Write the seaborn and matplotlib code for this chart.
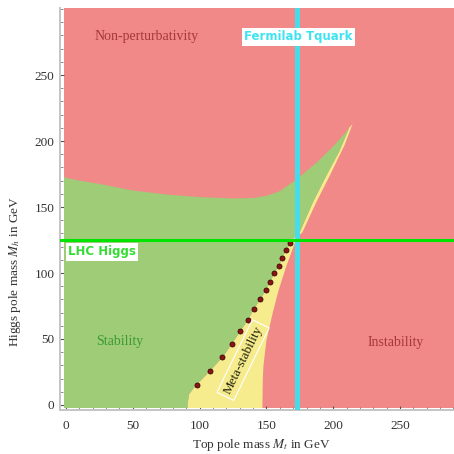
import matplotlib
matplotlib.use("Agg")
import matplotlib.pyplot as plt
import seaborn as sns
import pandas as pd

# grenser lest av bildet (GeV)
stab_top_x = [-1.5, 0, 10, 25, 50, 75, 100, 125, 140, 150, 160, 172, 188, 201, 208, 214.5]
stab_top_y = [173, 172, 170, 167.5, 162.5, 159.5, 157.5, 156.5, 156.8, 158.5, 162, 170.5, 184, 197, 205, 213]

stab_edge_x = [214.5, 212, 204.5, 195, 185, 175, 171, 168, 165, 162, 159.5, 156, 153, 149.5,
               145.5, 140.5, 136, 130.5, 124, 117, 108, 98, 95, 92, 91, 91]
stab_edge_y = [213, 210, 192, 174, 154, 131, 127, 122.5, 117.5, 112, 105.5, 100, 93.5, 87,
               80, 72.5, 64, 56, 46, 36, 26, 15.5, 12, 8, 0, -2.3]

meta_edge_x = [147, 147, 147.3, 147.8, 150, 155, 159, 164.5, 169.5, 173, 177, 187.5, 197.5, 208.5, 214.5]
meta_edge_y = [-2.3, 0, 20, 30, 49, 71, 86.5, 104, 118, 127, 131, 154, 174, 197, 213]

dots_x = [98, 108, 117, 124, 130.5, 136, 140.5, 145.5, 149.5, 153, 156, 159.5, 162, 165, 168]
dots_y = [15.5, 26, 36.5, 46, 56, 64.5, 72.5, 80.5, 87.5, 93.5, 100, 105.5, 111.5, 117.5, 122.5]

plot_x = [-1.5, 300]
plot_y = [-2.3, 310]

top_mass = 173
higgs_mass = 125

RED = "#F18989"
GREEN = "#9FCC77"
YELLOW = "#F6EC8E"

sns.set_style("ticks")
plt.rcParams["font.family"] = ["Liberation Serif", "DejaVu Serif"]
plt.rcParams["mathtext.fontset"] = "stix"

fig = plt.figure(figsize=(4.54, 4.54), dpi=100)
ax = fig.add_axes([60 / 454, 44 / 454, 394 / 454, 402 / 454])

# bakgrunn = ustabil / ikke-perturbativ
ax.fill_between(plot_x, plot_y[0], plot_y[1], color=RED, lw=0, zorder=0)

# metastabilt område
ax.fill(meta_edge_x + stab_edge_x, meta_edge_y + stab_edge_y, color=YELLOW, lw=0, zorder=1)

# stabilt område
ax.fill([plot_x[0]] + stab_top_x + stab_edge_x, [plot_y[0]] + stab_top_y + stab_edge_y,
        color=GREEN, lw=0, zorder=2)

df = pd.DataFrame({"mt": dots_x, "mh": dots_y})
sns.scatterplot(data=df, x="mt", y="mh", ax=ax, s=13, color="#8E1414",
                edgecolor="#3A0505", linewidth=0.6, zorder=4)

ax.axvline(top_mass, color="#45DDEC", lw=3.6, zorder=5)
ax.axhline(higgs_mass, color="#00E400", lw=2.2, zorder=5)

box = dict(boxstyle="square,pad=0.2", fc="white", ec="none")
ax.text(174, 279, "Fermilab Tquark", color="#3FE3F0", fontsize=8.5, fontweight="bold",
        family="DejaVu Sans", ha="center", va="center", bbox=box, zorder=6)
ax.text(1.5, 116, "LHC Higgs", color="#33DD33", fontsize=8.5, fontweight="bold",
        family="DejaVu Sans", ha="left", va="center", bbox=box, zorder=6)

ax.text(60, 279, "Non-perturbativity", color="#A83838", fontsize=10, ha="center", va="center", zorder=6)
ax.text(40, 48, "Stability", color="#3C9A34", fontsize=10, ha="center", va="center", zorder=6)
ax.text(247, 47, "Instability", color="#A83838", fontsize=10, ha="center", va="center", zorder=6)
ax.text(132.5, 34, "Meta-stability", color="#22220A", fontsize=9.5, ha="center", va="center",
        rotation=64, rotation_mode="anchor", zorder=6,
        bbox=dict(boxstyle="square,pad=0.25", fc="none", ec="white", lw=0.8))

ax.set_xlim(-4.5, 290.4)
ax.set_ylim(-3.8, 300.8)
ax.set_xticks([0, 50, 100, 150, 200, 250])
ax.set_yticks([0, 50, 100, 150, 200, 250])
ax.set_xticks(range(0, 291, 10), minor=True)
ax.set_yticks(range(0, 301, 10), minor=True)
ax.tick_params(which="major", direction="in", length=3, width=0.8, color="#555555",
               labelsize=9.5, labelcolor="#333333", pad=4)
ax.tick_params(axis="x", which="major", pad=7)
ax.tick_params(which="minor", direction="in", length=2, width=0.6, color="#777777")

sns.despine(ax=ax)
for s in ["left", "bottom"]:
    ax.spines[s].set_color("#C4C4C4")
    ax.spines[s].set_linewidth(1.4)

ax.set_xlabel(r"Top pole mass $M_t$ in GeV", fontsize=9.5, color="#333333")
ax.set_ylabel(r"Higgs pole mass $M_h$ in GeV", fontsize=9.5, color="#333333")
ax.xaxis.set_label_coords(0.51, -0.068)
ax.yaxis.set_label_coords(-0.095, 0.345)

fig.savefig("out.png", dpi=100)
